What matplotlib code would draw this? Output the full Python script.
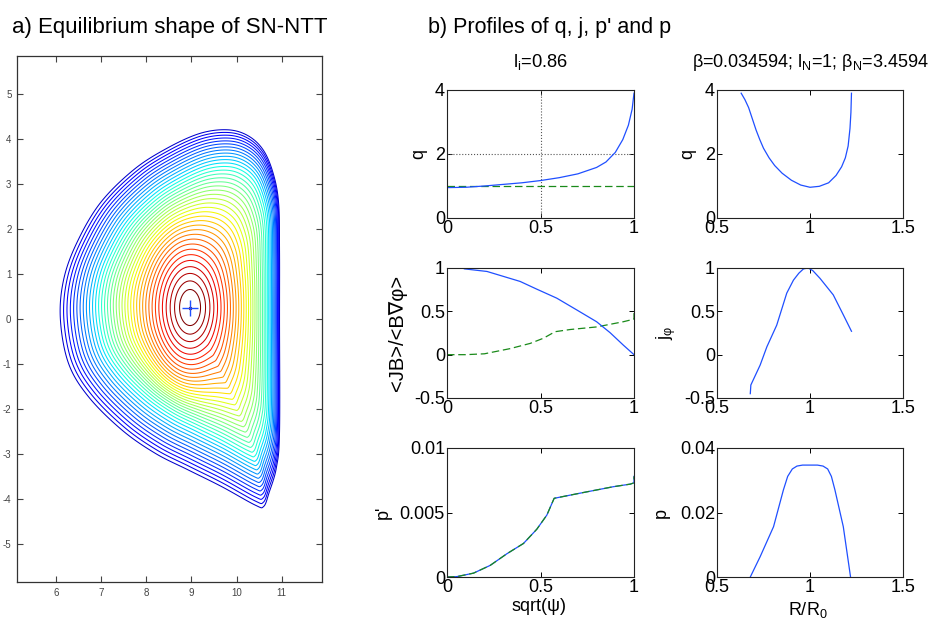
import numpy as np
import matplotlib
matplotlib.use('Agg')
import matplotlib.pyplot as plt
from matplotlib.patches import Polygon

plt.rcParams['font.family'] = ['Liberation Sans', 'DejaVu Sans']
plt.rcParams['mathtext.fontset'] = 'custom'
plt.rcParams['mathtext.rm'] = 'Liberation Sans'
plt.rcParams['mathtext.it'] = 'Liberation Sans:italic'
plt.rcParams['axes.unicode_minus'] = False

# ---------------- data ----------------
# a) plasma boundary (R, Z) and magnetic axis
BOUNDARY_R = [10.95, 10.95, 10.93, 10.81, 10.59, 10.25, 9.80, 9.19, 8.46, 7.72, 6.98,
              6.46, 6.17, 6.10, 6.28, 6.72, 7.46, 8.20, 8.93, 9.67, 10.41, 10.60,
              10.72, 10.88, 10.95]
BOUNDARY_Z = [0.00, 1.50, 2.58, 3.24, 3.76, 4.08, 4.21, 4.13, 3.80, 3.32, 2.58,
              1.69, 0.87, 0.00, -0.98, -1.72, -2.46, -2.98, -3.35, -3.72, -4.13, -4.16,
              -3.85, -3.30, -2.50]
AXIS_R, AXIS_Z = 8.97, 0.26
N_SURFACES = 38
XTICKS_A = [6, 7, 8, 9, 10, 11]
YTICKS_A = [-5, -4, -3, -2, -1, 0, 1, 2, 3, 4, 5]

# b) q vs sqrt(psi)
Q_X = [0.0, 0.1, 0.2, 0.3, 0.4, 0.5, 0.6, 0.7, 0.8, 0.85, 0.9, 0.94, 0.97, 0.99, 1.0]
Q_Y = [0.95, 0.96, 1.0, 1.05, 1.1, 1.17, 1.26, 1.38, 1.58, 1.75, 2.05, 2.45, 2.9, 3.4, 3.9]
Q_REF = 1.0
Q_MARK_X = 0.5
Q_MARK_Y = 2.0
# q vs R/R0
QR_R = [0.630, 0.650, 0.670, 0.690, 0.710, 0.730, 0.750, 0.780, 0.810, 0.850, 0.900,
        0.950, 1.000, 1.050, 1.100, 1.140, 1.170, 1.190, 1.205, 1.215, 1.220, 1.223]
QR_Y = [3.90, 3.70, 3.45, 3.10, 2.75, 2.45, 2.18, 1.88, 1.64, 1.40, 1.18,
        1.03, 0.96, 0.99, 1.10, 1.33, 1.60, 1.88, 2.25, 2.80, 3.30, 3.90]
# <JB>/<B grad phi>
JB_X = [0.093, 0.214, 0.391, 0.48, 0.587, 0.694, 0.8, 0.872, 0.943, 1.0]
JB_Y = [0.99, 0.96, 0.845, 0.756, 0.652, 0.516, 0.38, 0.254, 0.11, 0.0]
JBS_X = [0.0, 0.1, 0.2, 0.338, 0.445, 0.516, 0.578, 0.658, 0.8, 0.943, 1.0, 1.0]
JBS_Y = [0.0, 0.0, 0.01, 0.07, 0.13, 0.19, 0.265, 0.29, 0.32, 0.38, 0.41, 0.48]
# j_phi vs R/R0
J_R = [0.679, 0.682, 0.732, 0.768, 0.821, 0.875, 0.911, 0.94, 0.965, 0.99, 1.015,
       1.054, 1.125, 1.179, 1.223]
J_Y = [-0.45, -0.35, -0.12, 0.09, 0.34, 0.71, 0.86, 0.94, 0.99, 1.0, 0.97,
       0.88, 0.69, 0.46, 0.27]
# p' vs sqrt(psi)
PP_X = [0.0, 0.053, 0.142, 0.231, 0.32, 0.409, 0.48, 0.534, 0.573, 0.712, 0.89, 0.98,
        1.0, 1.0]
PP_Y = [0.0, 0.00003, 0.0003, 0.0009, 0.0018, 0.0026, 0.0037, 0.0048, 0.0061, 0.0065,
        0.0070, 0.0072, 0.0073, 0.0078]
# p vs R/R0
P_R = [0.679, 0.732, 0.804, 0.857, 0.88, 0.905, 0.93, 0.96, 1.04, 1.07, 1.095, 1.115,
       1.134, 1.179, 1.218]
P_Y = [0.0, 0.0063, 0.0156, 0.027, 0.0312, 0.0335, 0.0344, 0.0347, 0.0347, 0.0344,
       0.0335, 0.0312, 0.027, 0.0156, 0.0]

TICKS_S = [0, 0.5, 1]
TICKS_S_LBL = ['0', '0.5', '1']
TICKS_R = [0.5, 1, 1.5]
TICKS_R_LBL = ['0.5', '1', '1.5']
TICKS_Q = [0, 2, 4]
TICKS_Q_LBL = ['0', '2', '4']
TICKS_J = [-0.5, 0, 0.5, 1]
TICKS_J_LBL = ['-0.5', '0', '0.5', '1']
TICKS_PP = [0, 0.005, 0.01]
TICKS_PP_LBL = ['0', '0.005', '0.01']
TICKS_P = [0, 0.02, 0.04]
TICKS_P_LBL = ['0', '0.02', '0.04']

# ---------------- figure ----------------
W, H = 931, 620
fig = plt.figure(figsize=(W / 100, H / 100), dpi=100)


def rect(x0, y0, x1, y1):
    return [x0 / W, 1 - y1 / H, (x1 - x0) / W, (y1 - y0) / H]


# ---- a) flux surfaces ----
ax0 = fig.add_axes(rect(17, 56, 322, 582))


def catmull_closed(xs, ys, n=30):
    P = np.column_stack([xs, ys])
    m = len(P)
    out = []
    t = np.linspace(0, 1, n, endpoint=False)[:, None]
    for i in range(m):
        p0, p1, p2, p3 = P[(i - 1) % m], P[i], P[(i + 1) % m], P[(i + 2) % m]
        seg = 0.5 * ((2 * p1) + (-p0 + p2) * t + (2 * p0 - 5 * p1 + 4 * p2 - p3) * t ** 2
                     + (-p0 + 3 * p1 - 3 * p2 + p3) * t ** 3)
        out.append(seg)
    return np.vstack(out)


dense = catmull_closed(BOUNDARY_R, BOUNDARY_Z)
Rg = 0.5 * (min(BOUNDARY_R) + max(BOUNDARY_R))
Zg = 0.5 * (min(BOUNDARY_Z) + max(BOUNDARY_Z))
dx = dense[:, 0] - Rg
dz = dense[:, 1] - Zg
th = np.arctan2(dz, dx)
a_h = 0.5 * (max(BOUNDARY_R) - min(BOUNDARY_R))
b_h = 0.5 * (max(BOUNDARY_Z) - min(BOUNDARY_Z))
r_e = a_h * b_h / np.sqrt((b_h * np.cos(th)) ** 2 + (a_h * np.sin(th)) ** 2)
ex, ez = r_e * np.cos(th), r_e * np.sin(th)

psi_levels = np.linspace(0.035, 1.0, N_SURFACES)
cmap = plt.get_cmap('jet')
for k, psi in enumerate(psi_levels):
    s = psi ** 0.7
    x = np.clip((s - 0.15) / 0.65, 0, 1)
    w = x * x * (3 - 2 * x)
    px = w * dx + (1 - w) * ex
    pz = w * dz + (1 - w) * ez
    cR = Rg + (AXIS_R - Rg) * (1 - s ** 4)
    cZ = Zg + (AXIS_Z - Zg) * (1 - s ** 4)
    col = cmap(0.07 + 0.93 * (1 - k / (N_SURFACES - 1)))
    ax0.add_patch(Polygon(np.column_stack([cR + s * px, cZ + s * pz]), closed=True,
                          fill=False, edgecolor=col, lw=0.75))
ax0.plot([AXIS_R], [AXIS_Z], marker='.', color='#800000', ms=3)
ax0.plot([AXIS_R], [AXIS_Z], marker='+', color='#2050ff', ms=11, mew=1.0)

ax0.set_xlim(5.14, 11.89)
ax0.set_ylim(-5.84, 5.85)
ax0.set_xticks(XTICKS_A)
ax0.set_yticks(YTICKS_A)
ax0.tick_params(direction='in', top=True, right=True, length=4, width=0.8,
                labelsize=7, colors='#444444', pad=4)
for sp in ax0.spines.values():
    sp.set_color('#333333')
    sp.set_linewidth(0.9)

fig.text(12 / W, 1 - 27 / H, 'a) Equilibrium shape of SN-NTT', fontsize=16,
         va='center', ha='left')
fig.text(428 / W, 1 - 27 / H, "b) Profiles of q, j, p' and p", fontsize=15.5,
         va='center', ha='left')

# ---- b) profiles ----
cols = [(447, 634), (717, 903)]
rows = [(90, 218), (268, 398), (448, 577)]
BLUE = '#1f4fff'
GREEN = '#1a8a1a'


def make_ax(c, r):
    ax = fig.add_axes(rect(cols[c][0], rows[r][0], cols[c][1], rows[r][1]))
    ax.tick_params(direction='in', top=True, right=True, length=3.5, width=0.7,
                   labelsize=13, pad=1.5)
    for sp in ax.spines.values():
        sp.set_color('#222222')
        sp.set_linewidth(0.8)
    return ax


# q(sqrt psi)
ax = make_ax(0, 0)
ax.plot([Q_MARK_X, Q_MARK_X], [0, 4], ls=':', color='#555555', lw=0.8)
ax.plot([0, 1], [Q_MARK_Y, Q_MARK_Y], ls=':', color='#555555', lw=0.8)
ax.plot([0, 1], [Q_REF, Q_REF], ls=(0, (6, 3)), color=GREEN, lw=0.9)
ax.plot(Q_X, Q_Y, color=BLUE, lw=0.9)
ax.set_xlim(0, 1); ax.set_ylim(0, 4)
ax.set_xticks(TICKS_S, TICKS_S_LBL); ax.set_yticks(TICKS_Q, TICKS_Q_LBL)
ax.set_ylabel('q', fontsize=13)
ax.yaxis.set_label_coords(-0.107, 0.5)
ax.set_title(r'l$_\mathregular{i}$=0.86', fontsize=13.2, pad=16.5)

# q(R)
ax = make_ax(1, 0)
ax.plot(QR_R, QR_Y, color=BLUE, lw=0.9)
ax.set_xlim(0.5, 1.5); ax.set_ylim(0, 4)
ax.set_xticks(TICKS_R, TICKS_R_LBL); ax.set_yticks(TICKS_Q, TICKS_Q_LBL)
ax.set_ylabel('q', fontsize=13)
ax.yaxis.set_label_coords(-0.109, 0.5)
ax.set_title(r'β=0.034594; l$_\mathregular{N}$=1; β$_\mathregular{N}$=3.4594',
             fontsize=13.0, pad=16.5)

# <JB>/<B grad phi>
ax = make_ax(0, 1)
ax.plot(JBS_X, JBS_Y, ls=(0, (6, 3)), color=GREEN, lw=0.9)
ax.plot(JB_X, JB_Y, color=BLUE, lw=0.9)
ax.set_xlim(0, 1); ax.set_ylim(-0.5, 1)
ax.set_xticks(TICKS_S, TICKS_S_LBL); ax.set_yticks(TICKS_J, TICKS_J_LBL)
ax.set_ylabel('<JB>/<B∇φ>', fontsize=14.5)
ax.yaxis.set_label_coords(-0.216, 0.5)

# j_phi(R)
ax = make_ax(1, 1)
ax.plot(J_R, J_Y, color=BLUE, lw=0.9)
ax.set_xlim(0.5, 1.5); ax.set_ylim(-0.5, 1)
ax.set_xticks(TICKS_R, TICKS_R_LBL); ax.set_yticks(TICKS_J, TICKS_J_LBL)
ax.set_ylabel(r'j$_\mathregular{φ}$', fontsize=13)
ax.yaxis.set_label_coords(-0.21, 0.5)

# p'(sqrt psi)
ax = make_ax(0, 2)
ax.plot(PP_X, PP_Y, color=BLUE, lw=0.9)
ax.plot(PP_X, PP_Y, ls=(0, (6, 3)), color=GREEN, lw=0.9)
ax.set_xlim(0, 1); ax.set_ylim(0, 0.01)
ax.set_xticks(TICKS_S, TICKS_S_LBL); ax.set_yticks(TICKS_PP, TICKS_PP_LBL)
ax.set_ylabel("p'", fontsize=13)
ax.yaxis.set_label_coords(-0.294, 0.5)
ax.set_xlabel('sqrt(ψ)', fontsize=13, va='top')
ax.xaxis.set_label_coords(0.49, -0.16)

# p(R)
ax = make_ax(1, 2)
ax.plot(P_R, P_Y, color=BLUE, lw=0.9)
ax.set_xlim(0.5, 1.5); ax.set_ylim(0, 0.04)
ax.set_xticks(TICKS_R, TICKS_R_LBL); ax.set_yticks(TICKS_P, TICKS_P_LBL)
ax.set_ylabel('p', fontsize=13)
ax.yaxis.set_label_coords(-0.253, 0.5)
ax.set_xlabel(r'R/R$_\mathregular{0}$', fontsize=13, va='top')
ax.xaxis.set_label_coords(0.49, -0.18)

fig.savefig('out.png', dpi=100)
